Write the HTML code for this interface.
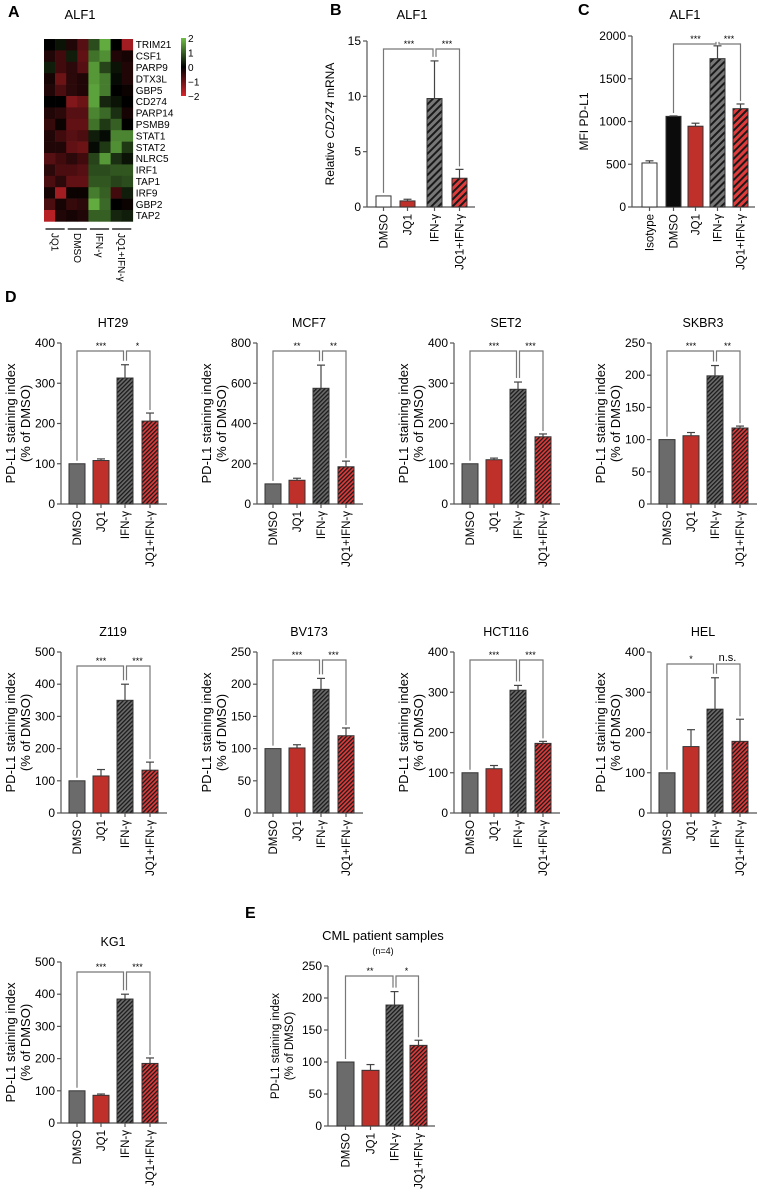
<!DOCTYPE html>
<html><head><meta charset="utf-8">
<style>
body{margin:0;background:#fff;}
svg{display:block;font-family:"Liberation Sans",Arial,sans-serif;}
</style></head>
<body>
<svg id="fig" width="760" height="1192" viewBox="0 0 760 1192" xmlns="http://www.w3.org/2000/svg">
<defs>
<pattern id="hatchGray" width="3" height="3" patternUnits="userSpaceOnUse" patternTransform="rotate(45)">
<rect width="3" height="3" fill="#6a6a6a"/><rect width="1.3" height="3" fill="#1a1a1a"/>
</pattern>
<pattern id="hatchRed" width="3" height="3" patternUnits="userSpaceOnUse" patternTransform="rotate(45)">
<rect width="3" height="3" fill="#e03a3a"/><rect width="1.3" height="3" fill="#1a1a1a"/>
</pattern>
<pattern id="hatchGrayB" width="5" height="5" patternUnits="userSpaceOnUse" patternTransform="rotate(45)">
<rect width="5" height="5" fill="#777"/><rect width="2" height="5" fill="#1a1a1a"/>
</pattern>
<pattern id="hatchRedB" width="5" height="5" patternUnits="userSpaceOnUse" patternTransform="rotate(45)">
<rect width="5" height="5" fill="#e03a3a"/><rect width="2" height="5" fill="#1a1a1a"/>
</pattern>
<linearGradient id="cbar" x1="0" y1="0" x2="0" y2="1">
<stop offset="0" stop-color="#6fbf45"/><stop offset="0.5" stop-color="#000"/><stop offset="1" stop-color="#d8262c"/>
</linearGradient>
</defs>
<g id="root"></g>
</svg>
<script>
// ---------- Heatmap data (panel A) ----------
const genes=["TRIM21","CSF1","PARP9","DTX3L","GBP5","CD274","PARP14","PSMB9","STAT1","STAT2","NLRC5","IRF1","TAP1","IRF9","GBP2","TAP2"];
const heatGroups=["JQ1","DMSO","IFN-γ","JQ1+IFN-γ"];
const heatValues=[
[0,0.2,-0.3,-0.8,0.8,1.8,0,-1.5],
[-0.3,-0.6,0.3,-0.9,1.2,1.5,-0.3,-0.2],
[0.3,-0.6,-0.4,-0.8,1.6,0.7,0.2,-0.3],
[-0.2,-1,-0.4,-0.3,1.6,1.3,0.1,-0.3],
[-0.3,-0.7,-0.4,-0.3,1.7,1.3,0,-0.1],
[0,0,-1.2,-1,1.7,0.4,0.2,0],
[-0.3,-0.4,-0.8,-0.8,1.4,1.1,0.5,-0.2],
[-0.5,-0.1,-0.9,-0.9,1.2,0.6,1,0],
[-0.3,-0.6,-0.8,-0.7,0.3,0.1,1.4,1.4],
[-0.3,-0.3,-0.9,-1,0.1,0.6,1.5,0.6],
[-0.8,-0.6,-0.4,-0.6,0.7,1.6,0.5,0.2],
[-0.4,-0.7,-0.7,-0.8,0.8,0.8,0.9,0.9],
[-0.7,-0.4,-0.9,-0.9,0.9,0.9,0.7,0.8],
[-0.2,-1.5,-0.1,-0.1,1.3,1.0,-0.6,0.3],
[-0.7,-0.2,-0.5,-0.4,1.8,1.1,0,-0.1],
[-1.7,-0.3,-0.2,-0.3,1.0,1.0,0.4,0.3]];
const cbarTicks=[2,1,0,-1,-2];

// ---------- Bar chart data ----------
const cats4=["DMSO","JQ1","IFN-γ","JQ1+IFN-γ"];
const cats5=["Isotype","DMSO","JQ1","IFN-γ","JQ1+IFN-γ"];
const bVals=[1,0.55,9.8,2.6]; const bErrs=[0,0.15,3.4,0.8]; const bTicks=[0,5,10,15];
const cVals=[515,1060,945,1735,1150]; const cErrs=[25,5,35,150,55]; const cTicks=[0,500,1000,1500,2000];
const ht29Vals=[100,108,313,206]; const ht29Errs=[0,4,33,20]; const ht29Ticks=[0,100,200,300,400];
const mcf7Vals=[100,118,575,185]; const mcf7Errs=[0,10,115,28]; const mcf7Ticks=[0,200,400,600,800];
const set2Vals=[100,110,285,167]; const set2Errs=[0,4,18,7]; const set2Ticks=[0,100,200,300,400];
const skbr3Vals=[100,106,199,118]; const skbr3Errs=[0,5,16,3]; const skbr3Ticks=[0,50,100,150,200,250];
const z119Vals=[100,115,350,133]; const z119Errs=[0,20,50,25]; const z119Ticks=[0,100,200,300,400,500];
const bv173Vals=[100,101,192,120]; const bv173Errs=[0,5,17,12]; const bv173Ticks=[0,50,100,150,200,250];
const hct116Vals=[100,110,305,173]; const hct116Errs=[0,8,12,5]; const hct116Ticks=[0,100,200,300,400];
const helVals=[100,165,258,178]; const helErrs=[0,42,78,55]; const helTicks=[0,100,200,300,400];
const kg1Vals=[100,86,385,185]; const kg1Errs=[0,4,15,17]; const kg1Ticks=[0,100,200,300,400,500];
const cmlVals=[100,87,189,126]; const cmlErrs=[0,9,21,8]; const cmlTicks=[0,50,100,150,200,250];

const NS="http://www.w3.org/2000/svg";
const root=document.getElementById('root');
function mk(tag,attrs,parent,text){const e=document.createElementNS(NS,tag);for(const k in attrs)e.setAttribute(k,attrs[k]);if(text!==undefined)e.textContent=text;(parent||root).appendChild(e);return e;}

[["A",8,17],["B",330,15],["C",578,15],["D",5,302],["E",245,918]].forEach(p=>{
 const t=mk('text',{x:p[1],y:p[2],'font-size':16,'font-weight':'bold'},root,p[0]);
 
 
});

(function(){
 const g=mk('g',{});
 
 
 const t=mk('text',{x:80,y:19,'font-size':13,'text-anchor':'middle'},g,"ALF1");
 
 
 const x0=44,y0=39,cw=11.1,ch=11.4;
 function col(v){const f=Math.min(1,Math.abs(v)/2);
  if(v>=0)return `rgb(${Math.round(108*f)},${Math.round(190*f)},${Math.round(70*f)})`;
  return `rgb(${Math.round(215*f)},${Math.round(38*f)},${Math.round(44*f)})`;}
 heatValues.forEach((row,r)=>{row.forEach((v,c)=>{
  const cell=mk('rect',{x:x0+c*cw,y:y0+r*ch,width:cw+0.3,height:ch+0.3,fill:col(v)},g);
  
  
 });
  const gl=mk('text',{x:x0+8*cw+3,y:y0+r*ch+ch/2+3.5,'font-size':10},g,genes[r]);
  
  
 });
 const cb=mk('rect',{x:181,y:38,width:5,height:58,fill:'url(#cbar)'},g);
 
 
 cbarTicks.forEach((v,i)=>{
  const tl=mk('text',{x:188,y:38+(2-v)/4*58+4,'font-size':10},g,v<0?'\u2212'+Math.abs(v):String(v));
  
  
 });
 heatGroups.forEach((name,i)=>{
  const xa=x0+i*2*cw+1.5, xb=x0+(i*2+2)*cw-1.5;
  const ln=mk('line',{x1:xa,x2:xb,y1:229,y2:229,stroke:'#000','stroke-width':1.3},g);
  
  
  const cx=(xa+xb)/2;
  const tx=mk('text',{x:cx-3.5,y:233,'font-size':10,transform:`rotate(90 ${cx-3.5} 233)`},g,name);
  
  
 });
})();

function barChart(cfg){
 const g=mk('g',{});
 
 
 const ax=cfg.ax, top=cfg.top, bot=cfg.bot, ymax=cfg.ticks[cfg.ticks.length-1];
 const y=v=>bot-(v/ymax)*(bot-top);
 const bx=i=>ax+cfg.offs[i];
 const fs=cfg.fs||12;
 const cfs=cfg.cfs||11.5;
 const t=mk('text',{x:cfg.tx,y:cfg.ty,'font-size':cfg.tfs||12.5,'text-anchor':'middle'},g,cfg.title);
 
 
 if(cfg.sub){const s=mk('text',{x:cfg.tx,y:cfg.ty+14,'font-size':9,'text-anchor':'middle'},g,cfg.sub);
  
  }
 const ya=mk('line',{x1:ax,x2:ax,y1:top,y2:bot,stroke:'#555','stroke-width':1.2},g);
 
 
 const xa=mk('line',{x1:ax,x2:ax+cfg.xlen,y1:bot,y2:bot,stroke:'#555','stroke-width':1.2},g);
 
 
 cfg.ticks.forEach(v=>{
  const tk=mk('line',{x1:ax-4,x2:ax,y1:y(v),y2:y(v),stroke:'#555','stroke-width':1.2},g);
  
  
  const tl=mk('text',{x:ax-6,y:y(v)+4,'font-size':fs,'text-anchor':'end'},g,String(v));
  
  
 });
 const my=(top+bot)/2;
 cfg.ylab.forEach((line,k)=>{
  const lx=ax+cfg.ylx[k];
  const yl=mk('text',{x:lx,y:my,'font-size':cfg.yfs||13,'text-anchor':'middle',transform:`rotate(-90 ${lx} ${my})`},g);
  
  
  if(line==="CD274"){yl.appendChild(document.createTextNode('Relative '));mk('tspan',{'font-style':'italic'},yl,'CD274');yl.appendChild(document.createTextNode(' mRNA'));}
  else yl.textContent=line;
 });
 cfg.vals.forEach((v,i)=>{
  const st=cfg.styles[i];
  const r=mk('rect',{x:bx(i),y:y(v),width:cfg.bw,height:bot-y(v),fill:st,stroke:'#333','stroke-width':1},g);
  
  
  const e=cfg.errs[i];
  if(e>0){const cx=bx(i)+cfg.bw/2;
   const el=mk('line',{x1:cx,x2:cx,y1:y(v),y2:y(v+e),stroke:'#444','stroke-width':1.2},g);
   
   
   const ec=mk('line',{x1:cx-4,x2:cx+4,y1:y(v+e),y2:y(v+e),stroke:'#444','stroke-width':1.2},g);
   
   }
  const cx=bx(i)+cfg.bw/2;
  const xt=mk('line',{x1:cx,x2:cx,y1:bot,y2:bot+4,stroke:'#555','stroke-width':1.2},g);
  
  
  const lx=cx+4, ly=bot+7;
  const cl=mk('text',{x:lx,y:ly,'font-size':cfs,'text-anchor':'end',transform:`rotate(-90 ${lx} ${ly})`},g,cfg.cats[i]);
  
  
 });
 const by=top+cfg.bry;
 const cxI=i=>bx(i)+cfg.bw/2;
 const topOf=i=>y(cfg.vals[i]+cfg.errs[i]);
 const [a,m,c]=cfg.cmp;
 const p1=`M${cxI(a)},${topOf(a)-3} V${by} H${cxI(m)-1.5} V${topOf(m)-4}`;
 const p2=`M${cxI(m)+1.5},${topOf(m)-4} V${by} H${cxI(c)} V${topOf(c)-3}`;
 const b1=mk('path',{d:p1,fill:'none',stroke:'#777','stroke-width':1.2},g);
 
 
 const b2=mk('path',{d:p2,fill:'none',stroke:'#777','stroke-width':1.2},g);
 
 
 [[cfg.sig[0],(cxI(a)+cxI(m))/2],[cfg.sig[1],(cxI(m)+cxI(c))/2]].forEach(s=>{
  const ns=s[0]==='n.s.';
  const st=mk('text',{x:s[1],y:ns?by-3:by-2,'font-size':ns?11:9,'text-anchor':'middle'},g,s[0]);
  
  
 });
}

const st4=['#6b6b6b','#c0302a','url(#hatchGray)','url(#hatchRed)'];
const stB=['#fff','#c0302a','url(#hatchGrayB)','url(#hatchRedB)'];
const stC=['#fff','#0b0b0b','#c0302a','url(#hatchGrayB)','url(#hatchRedB)'];

barChart({name:'chart-b-cd274-mrna',title:'ALF1',tx:412,ty:19,ax:367,top:41,bot:207,xlen:108,offs:[9,33,60,85],bw:15,
 ticks:bTicks,cats:cats4,vals:bVals,errs:bErrs,styles:stB,ylab:['CD274'],ylx:[-33],yfs:12,bry:8,cmp:[0,2,3],sig:['***','***'],tfs:13});
barChart({name:'chart-c-mfi-pdl1',title:'ALF1',tx:685,ty:19,ax:632,top:36,bot:207,xlen:123,offs:[10,34,56,78,101],bw:15,
 ticks:cTicks,cats:cats5,vals:cVals,errs:cErrs,styles:stC,ylab:['MFI PD-L1'],ylx:[-44],yfs:12,bry:8,cmp:[1,3,4],sig:['***','***'],tfs:13});

const colX=[61,257,454,651], rowTop=[343,652,962], H=161;
const dPanels=[
 ['HT29',ht29Vals,ht29Errs,ht29Ticks,0,0,['***','*'],8],
 ['MCF7',mcf7Vals,mcf7Errs,mcf7Ticks,1,0,['**','**'],8],
 ['SET2',set2Vals,set2Errs,set2Ticks,2,0,['***','***'],8],
 ['SKBR3',skbr3Vals,skbr3Errs,skbr3Ticks,3,0,['***','**'],8],
 ['Z119',z119Vals,z119Errs,z119Ticks,0,1,['***','***'],14],
 ['BV173',bv173Vals,bv173Errs,bv173Ticks,1,1,['***','***'],8],
 ['HCT116',hct116Vals,hct116Errs,hct116Ticks,2,1,['***','***'],8],
 ['HEL',helVals,helErrs,helTicks,3,1,['*','n.s.'],12],
 ['KG1',kg1Vals,kg1Errs,kg1Ticks,0,2,['***','***'],10]
];
dPanels.forEach(p=>{
 const ax=colX[p[4]], top=rowTop[p[5]];
 barChart({name:'chart-d-'+p[0].toLowerCase(),title:p[0],tx:ax+52,ty:top-16,ax:ax,top:top,bot:top+H,xlen:106,offs:[8,32,56,81],bw:16,
  ticks:p[3],cats:cats4,vals:p[1],errs:p[2],styles:st4,ylab:['PD-L1 staining index','(% of DMSO)'],ylx:[-46,-31],bry:p[7],cmp:[0,2,3],sig:p[6]});
});
barChart({name:'chart-e-cml',title:'CML patient samples',sub:'(n=4)',tx:383,ty:940,ax:328,top:966,bot:1126,xlen:107,offs:[9,34,58,82],bw:17,
 ticks:cmlTicks,cats:cats4,vals:cmlVals,errs:cmlErrs,styles:st4,ylab:['PD-L1 staining index','(% of DMSO)'],ylx:[-49,-35],yfs:11.5,bry:10,cmp:[0,2,3],sig:['**','*'],tfs:13});
</script>
</body></html>
